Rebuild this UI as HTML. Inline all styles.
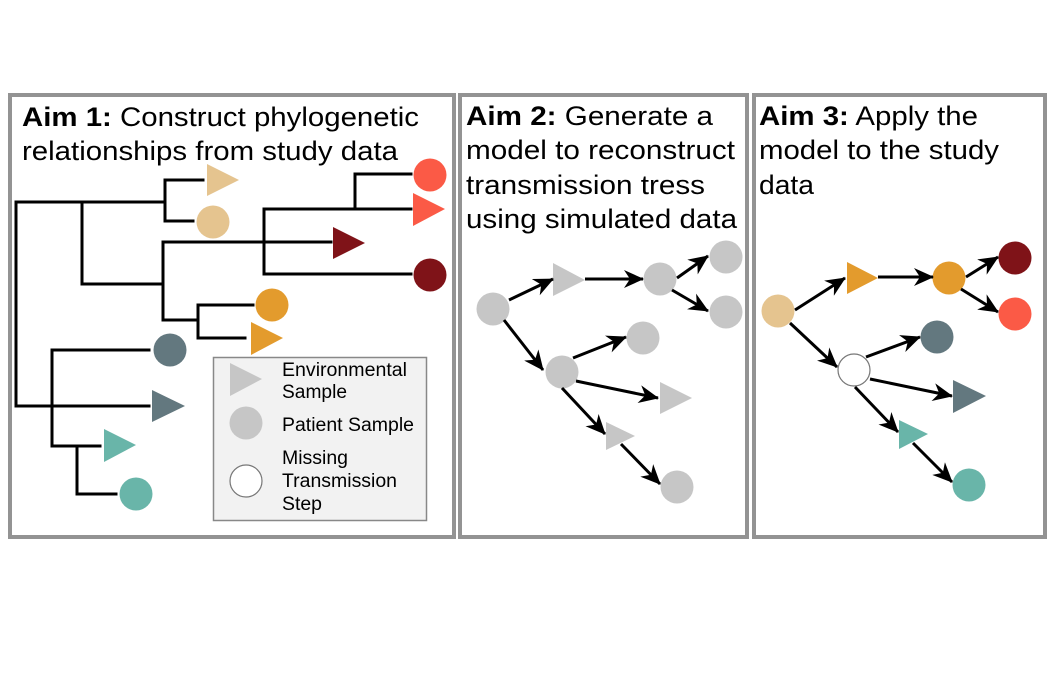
<!DOCTYPE html>
<html><head><meta charset="utf-8"><style>
html,body{margin:0;padding:0;background:#fff;}
svg{display:block;font-family:"Liberation Sans",Arial,sans-serif;}
</style></head><body>
<svg width="1056" height="678" viewBox="0 0 1056 678" xmlns="http://www.w3.org/2000/svg">
<defs>
<marker id="b" markerWidth="20" markerHeight="18" refX="19" refY="9" orient="auto" markerUnits="userSpaceOnUse" viewBox="0 0 20 18">
<path d="M0,0 L20,9 L0,18 L6,9 Z" fill="#000"/>
</marker>
</defs>
<rect x="10" y="95" width="444" height="442" fill="#fff" stroke="#939393" stroke-width="4"/>
<rect x="460" y="95" width="287" height="442" fill="#fff" stroke="#939393" stroke-width="4"/>
<rect x="754" y="95" width="291" height="442" fill="#fff" stroke="#939393" stroke-width="4"/>

<g font-size="27" fill="#000">
<text x="22" y="126" textLength="397" lengthAdjust="spacingAndGlyphs"><tspan font-weight="bold">Aim 1:</tspan> Construct phylogenetic</text>
<text x="22" y="160" textLength="376" lengthAdjust="spacingAndGlyphs">relationships from study data</text>
<text x="466" y="125" textLength="247" lengthAdjust="spacingAndGlyphs"><tspan font-weight="bold">Aim 2:</tspan> Generate a</text>
<text x="466" y="159" textLength="269" lengthAdjust="spacingAndGlyphs">model to reconstruct</text>
<text x="466" y="194" textLength="239" lengthAdjust="spacingAndGlyphs">transmission tress</text>
<text x="466" y="228" textLength="271" lengthAdjust="spacingAndGlyphs">using simulated data</text>
<text x="759" y="125" textLength="219" lengthAdjust="spacingAndGlyphs"><tspan font-weight="bold">Aim 3:</tspan> Apply the</text>
<text x="759" y="159" textLength="240" lengthAdjust="spacingAndGlyphs">model to the study</text>
<text x="759" y="194" textLength="55" lengthAdjust="spacingAndGlyphs">data</text>
</g>

<g stroke="#000" stroke-width="3" fill="none" stroke-linecap="square">
<path d="M16,202 V406"/>
<path d="M16,202 H165"/>
<path d="M165,180 V221"/>
<path d="M165,180 H203"/>
<path d="M165,221 H193"/>
<path d="M82,202 V284 H163"/>
<path d="M163,242 V320"/>
<path d="M163,242 H331"/>
<path d="M264,209 V274"/>
<path d="M264,209 H411"/>
<path d="M264,274 H411"/>
<path d="M355,174 V209"/>
<path d="M355,174 H411"/>
<path d="M163,320 H198"/>
<path d="M198,305 V338"/>
<path d="M198,305 H253"/>
<path d="M198,338 H245"/>
<path d="M16,406 H149"/>
<path d="M52,350 V446"/>
<path d="M52,350 H149"/>
<path d="M52,446 H100"/>
<path d="M77,446 V494 H116"/>
</g>
<polygon points="207,164 239,180 207,196" fill="#e5c48f"/>
<circle cx="213" cy="222" r="16.5" fill="#e5c48f"/>
<circle cx="430" cy="175" r="16.5" fill="#fb5a46"/>
<polygon points="413,193 445,209 413,226" fill="#fb5a46"/>
<polygon points="333,227 365,243 333,259" fill="#7f1318"/>
<circle cx="430" cy="275" r="16.5" fill="#7f1318"/>
<circle cx="272" cy="305" r="16.5" fill="#e39b2d"/>
<polygon points="251,322 283,338 251,355" fill="#e39b2d"/>
<circle cx="170" cy="350" r="16.5" fill="#63787f"/>
<polygon points="152,390 185,406 152,422" fill="#63787f"/>
<polygon points="104,429 136,445 104,462" fill="#69b5a9"/>
<circle cx="136" cy="494" r="16.5" fill="#69b5a9"/>

<rect x="213.5" y="357.5" width="213" height="163" fill="#f2f2f2" stroke="#888" stroke-width="1.5"/>
<polygon points="230,363 262,379 230,396" fill="#c6c6c6"/>
<circle cx="246" cy="423" r="16.5" fill="#c6c6c6"/>
<circle cx="246" cy="481" r="16" fill="#fff" stroke="#777" stroke-width="1.2"/>
<g font-size="19" fill="#000">
<text x="282" y="376" textLength="125" lengthAdjust="spacingAndGlyphs">Environmental</text>
<text x="282" y="398" textLength="65" lengthAdjust="spacingAndGlyphs">Sample</text>
<text x="282" y="431" textLength="132" lengthAdjust="spacingAndGlyphs">Patient Sample</text>
<text x="282" y="464" textLength="66" lengthAdjust="spacingAndGlyphs">Missing</text>
<text x="282" y="487" textLength="115" lengthAdjust="spacingAndGlyphs">Transmission</text>
<text x="282" y="510" textLength="40" lengthAdjust="spacingAndGlyphs">Step</text>
</g>

<g fill="#c6c6c6">
<circle cx="493" cy="309" r="16.5"/>
<polygon points="553,263 585,280 553,296"/>
<circle cx="660" cy="279" r="16.5"/>
<circle cx="726" cy="257" r="16.5"/>
<circle cx="726" cy="312" r="16.5"/>
<circle cx="562" cy="372" r="16.5"/>
<circle cx="643" cy="338" r="16.5"/>
<polygon points="660,382 692,398 660,414"/>
<polygon points="606,422 635,436 606,450"/>
<circle cx="677" cy="487" r="16.5"/>
</g>
<g stroke="#000" stroke-width="3" marker-end="url(#b)">
<line x1="509" y1="300" x2="553" y2="279"/>
<line x1="504" y1="320" x2="543" y2="370"/>
<line x1="585" y1="279" x2="643" y2="279"/>
<line x1="677" y1="278" x2="708" y2="256"/>
<line x1="672" y1="290" x2="708" y2="311"/>
<line x1="573" y1="358" x2="626" y2="337"/>
<line x1="576" y1="381" x2="658" y2="398"/>
<line x1="562" y1="388" x2="605" y2="434"/>
<line x1="621" y1="444" x2="660" y2="484"/>
</g>

<circle cx="778" cy="311" r="16.5" fill="#e5c48f"/>
<polygon points="847,262 878,278 847,294" fill="#e39b2d"/>
<circle cx="949" cy="278" r="16.5" fill="#e39b2d"/>
<circle cx="1015" cy="258" r="16.5" fill="#7f1318"/>
<circle cx="1015" cy="314" r="16.5" fill="#fb5a46"/>
<circle cx="937" cy="337" r="16.5" fill="#63787f"/>
<circle cx="854" cy="370" r="16" fill="#fff" stroke="#777" stroke-width="1.2"/>
<polygon points="953,380 986,396 953,413" fill="#63787f"/>
<polygon points="899,420 928,434 899,449" fill="#69b5a9"/>
<circle cx="969" cy="485" r="16.5" fill="#69b5a9"/>
<g stroke="#000" stroke-width="3" marker-end="url(#b)">
<line x1="795" y1="310" x2="845" y2="278"/>
<line x1="790" y1="323" x2="837" y2="367"/>
<line x1="878" y1="277" x2="933" y2="277"/>
<line x1="966" y1="277" x2="998" y2="257"/>
<line x1="961" y1="289" x2="998" y2="312"/>
<line x1="866" y1="357" x2="920" y2="337"/>
<line x1="870" y1="379" x2="952" y2="396"/>
<line x1="855" y1="387" x2="898" y2="432"/>
<line x1="913" y1="443" x2="952" y2="482"/>
</g>
</svg>
</body></html>
